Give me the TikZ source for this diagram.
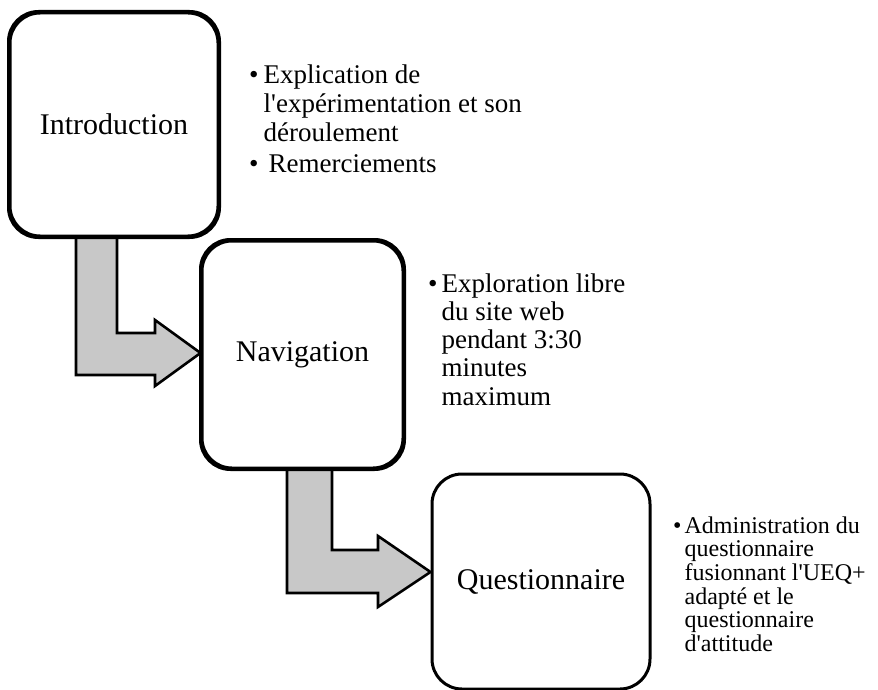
\documentclass[tikz,border=0pt]{standalone}
\usepackage{fontspec}
\setmainfont{Liberation Serif}[Ligatures=TeXOff]
\usetikzlibrary{calc}
\definecolor{arrowgray}{RGB}{200,200,200}
\begin{document}
\begin{tikzpicture}[x=1pt,y=-1pt,
  stagebox/.style={draw=black, line width=3pt, rounded corners=30pt, fill=white,
    inner sep=0pt, font=\fontsize{30}{36}\selectfont},
  blockarrow/.style={draw=black, line width=2.6pt, fill=arrowgray, line join=miter},
  bulletlist/.style={anchor=base west, inner sep=0pt, align=left}
]
\useasboundingbox (0,0) rectangle (878,690);

% boxes
\node[stagebox, minimum width=208pt, minimum height=223pt] (intro) at (114,124.5) {Introduction};
\node[stagebox, minimum width=201pt, minimum height=227pt] (nav) at (302.5,354.5) {Navigation};
\node[stagebox, minimum width=218pt, minimum height=215pt] (quest) at (541,581.5) {Questionnaire};

% block arrows
\draw[blockarrow] (intro.south -| 76,0) -- (76,375) -- (155,375) -- (155,386)
  -- (nav.west |- 0,353) -- (155,320) -- (155,333) -- (117,333) -- (intro.south -| 117,0) -- cycle;
\draw[blockarrow] (nav.south -| 287,0) -- (287,593) -- (378,593) -- (378,607)
  -- (quest.west |- 0,572) -- (378,536) -- (378,550) -- (332,550) -- (nav.south -| 332,0) -- cycle;

% redraw box outlines on top of arrow joins
\draw[line width=3pt, rounded corners=30pt] (intro.south west) rectangle (intro.north east);
\draw[line width=3pt, rounded corners=30pt] (nav.south west) rectangle (nav.north east);

% bullet texts
\node[bulletlist, font=\fontsize{27}{29}\selectfont] (t1) at (249,84)
  {\begin{tabular}[t]{@{}l@{\hspace{5pt}}l@{}}
   •&Explication de\\
    &l'expérimentation et son\\
    &déroulement\\[2pt]
   •&\hspace{5pt}Remerciements
   \end{tabular}};
\node[bulletlist, font=\fontsize{27}{28.3}\selectfont] (t2) at (428,292)
  {\begin{tabular}[t]{@{}l@{\hspace{4pt}}l@{}}
   •&Exploration libre\\
    &du site web\\
    &pendant 3:30\\
    &minutes\\
    &maximum
   \end{tabular}};
\node[bulletlist, font=\fontsize{24}{23.4}\selectfont] (t3) at (673,533)
  {\begin{tabular}[t]{@{}l@{\hspace{3pt}}l@{}}
   •&Administration du\\
    &questionnaire\\
    &fusionnant l'UEQ+\\
    &adapté et le\\
    &questionnaire\\
    &d'attitude
   \end{tabular}};
\end{tikzpicture}
\end{document}
